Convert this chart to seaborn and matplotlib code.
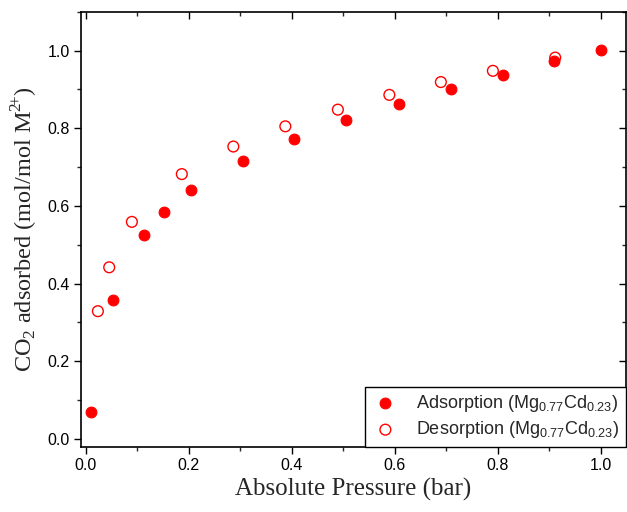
import matplotlib
matplotlib.use("Agg")
import matplotlib.pyplot as plt
import seaborn as sns
import pandas as pd
from matplotlib.ticker import MultipleLocator

ads_p = [0.0105, 0.054, 0.113, 0.152, 0.204, 0.305, 0.404, 0.506, 0.608, 0.709, 0.811, 0.910, 1.001]
ads_q = [0.069, 0.357, 0.526, 0.584, 0.640, 0.715, 0.772, 0.821, 0.863, 0.901, 0.938, 0.972, 1.001]
des_p = [0.024, 0.046, 0.090, 0.187, 0.287, 0.388, 0.490, 0.590, 0.690, 0.791, 0.912]
des_q = [0.329, 0.442, 0.559, 0.682, 0.753, 0.805, 0.848, 0.886, 0.919, 0.948, 0.982]

ads_label = r"Adsorption (Mg$_\mathregular{0.77}$Cd$_\mathregular{0.23}$)"
des_label = r"Desorption (Mg$_\mathregular{0.77}$Cd$_\mathregular{0.23}$)"

sns.set_style("ticks")
plt.rcParams["font.family"] = ["Liberation Sans", "DejaVu Sans"]

fig = plt.figure(figsize=(6.27, 5.12), dpi=100)
ax = fig.add_axes([0.129, 0.1275, 0.869, 0.8495])

ads = pd.DataFrame({"p": ads_p, "q": ads_q})
des = pd.DataFrame({"p": des_p, "q": des_q})

sns.scatterplot(data=ads, x="p", y="q", ax=ax, color="#ff0000", s=60,
                edgecolor="#ff0000", linewidth=0.8, marker="o", label=ads_label, zorder=3)
sns.scatterplot(data=des, x="p", y="q", ax=ax, facecolor="none", s=60,
                edgecolor="#ff0000", linewidth=1.0, marker="o", label=des_label, zorder=3)

ax.set_xlim(-0.009, 1.049)
ax.set_ylim(-0.020, 1.10)
ax.xaxis.set_major_locator(MultipleLocator(0.2))
ax.xaxis.set_minor_locator(MultipleLocator(0.1))
ax.yaxis.set_major_locator(MultipleLocator(0.2))
ax.yaxis.set_minor_locator(MultipleLocator(0.1))
ax.xaxis.set_major_formatter(matplotlib.ticker.FormatStrFormatter("%.1f"))
ax.yaxis.set_major_formatter(matplotlib.ticker.FormatStrFormatter("%.1f"))

for side in ["left", "right", "top", "bottom"]:
    ax.spines[side].set_visible(True)
    ax.spines[side].set_linewidth(1.2)
    ax.spines[side].set_color("black")

ax.tick_params(axis="both", which="major", direction="out", length=5, width=1.0,
               labelsize=11.5, colors="black", pad=3)
ax.tick_params(axis="both", which="minor", direction="out", length=3, width=1.0)
ax.tick_params(top=True, right=True, which="both")
for t in ax.xaxis.get_major_ticks() + ax.xaxis.get_minor_ticks():
    t.tick2line.set_marker(3)
for t in ax.yaxis.get_major_ticks() + ax.yaxis.get_minor_ticks():
    t.tick2line.set_marker(0)

ax.set_xlabel("Absolute Pressure (bar)", fontsize=18, family=["Liberation Serif"], labelpad=4)
ax.set_ylabel(r"CO$_\mathregular{2}$ adsorbed (mol/mol M$^{\mathregular{2}\!\mathregular{+}}$)", fontsize=17.5,
              family=["Liberation Serif"], labelpad=5)

leg = ax.legend(loc="lower right", borderaxespad=0, fontsize=13, frameon=True,
                fancybox=False, edgecolor="black", framealpha=1, handletextpad=0.9,
                borderpad=0.35, labelspacing=0.3, handlelength=1.6)
leg.get_frame().set_linewidth(1.0)

fig.savefig("out.png", dpi=100)
